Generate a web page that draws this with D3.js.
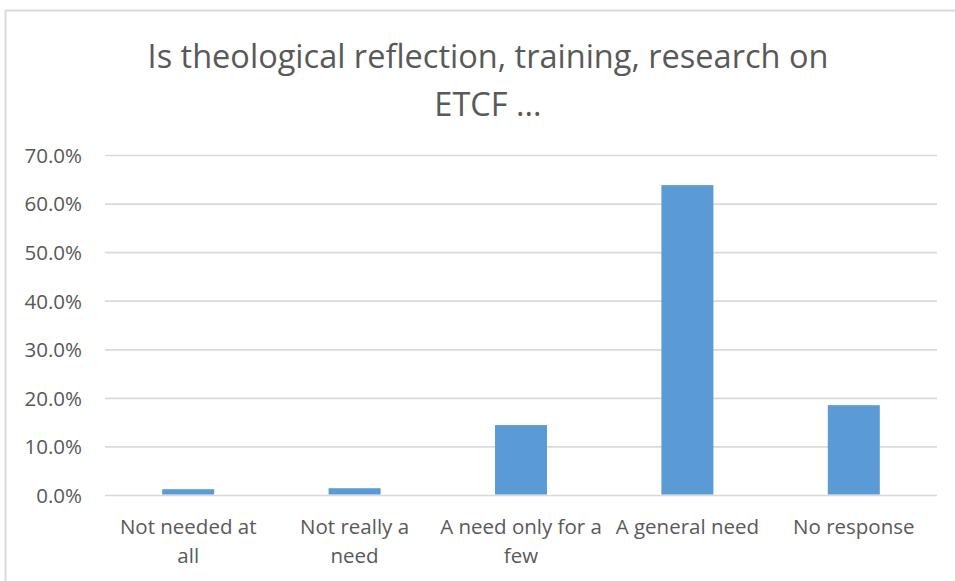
<!DOCTYPE html>
<html>
<head>
<meta charset="utf-8">
<script src="https://cdn.jsdelivr.net/npm/d3@7"></script>
<style>
  body { margin: 0; background: #fff; }
  text { font-family: "Open Sans", sans-serif; fill: #595959; }
</style>
</head>
<body>
<div id="chart"></div>
<script>
// survey answers
var categories = ["Not needed at all", "Not really a need", "A need only for a few", "A general need", "No response"];
// how excel wrapped the category labels
var catLines = [["Not needed at", "all"], ["Not really a", "need"], ["A need only for a", "few"], ["A general need"], ["No response"]];
var values = [0.013, 0.015, 0.145, 0.639, 0.186];
var yTicks = [0, 0.1, 0.2, 0.3, 0.4, 0.5, 0.6, 0.7];
var titleLines = ["Is theological reflection, training, research on", "ETCF ..."];

var width = 955, height = 581;
var margin = {top: 155.5, right: 18, bottom: 85.5, left: 105};

var svg = d3.select("#chart")
  .append("svg")
    .attr("width", width)
    .attr("height", height);

// chart frame (only the left and top edges show in the picture)
svg.append("path")
  .attr("d", "M5.5,600 V10.5 H1000")
  .attr("fill", "none")
  .attr("stroke", "#d9d9d9")
  .attr("stroke-width", 2);

// title, sized so the first line is as wide as the original
var title = svg.append("g");
var t1 = title.append("text")
  .attr("x", 488).attr("y", 68)
  .attr("text-anchor", "middle")
  .style("font-size", "35px")
  .text(titleLines[0]);
var fs = 35 * 681 / t1.node().getComputedTextLength();
t1.style("font-size", fs + "px");
title.append("text")
  .attr("x", 488).attr("y", 116)
  .attr("text-anchor", "middle")
  .style("font-size", fs + "px")
  .text(titleLines[1]);

var x = d3.scaleBand()
  .domain(categories)
  .range([margin.left, width - margin.right])
  .paddingInner(0.6875)
  .paddingOuter(0.34375);

var y = d3.scaleLinear()
  .domain([0, 0.7])
  .range([height - margin.bottom, margin.top]);

// gridlines
svg.append("g")
  .selectAll("line")
  .data(yTicks)
  .join("line")
    .attr("x1", margin.left)
    .attr("x2", width - margin.right)
    .attr("y1", d => y(d))
    .attr("y2", d => y(d))
    .attr("stroke", "#d9d9d9")
    .attr("stroke-width", 1.7);

// y axis labels
svg.append("g")
  .selectAll("text")
  .data(yTicks)
  .join("text")
    .attr("x", 82)
    .attr("y", d => y(d))
    .attr("dy", "0.36em")
    .attr("text-anchor", "end")
    .style("font-size", "20.5px")
    .text(d => d3.format(".1%")(d));

// bars
svg.append("g")
  .selectAll("rect")
  .data(values)
  .join("rect")
    .attr("x", (d, i) => x(categories[i]))
    .attr("y", d => y(d))
    .attr("width", x.bandwidth())
    .attr("height", d => y(0) - y(d) - 1)
    .attr("fill", "#5b9bd5");

// category labels
var lab = svg.append("g")
  .selectAll("text")
  .data(categories)
  .join("text")
    .attr("text-anchor", "middle")
    .style("font-size", "20.5px");
lab.selectAll("tspan")
  .data((d, i) => catLines[i].map(s => ({s: s, c: d})))
  .join("tspan")
    .attr("x", d => x(d.c) + x.bandwidth() / 2)
    .attr("y", (d, j) => 534 + j * 29)
    .text(d => d.s);
</script>
</body>
</html>
